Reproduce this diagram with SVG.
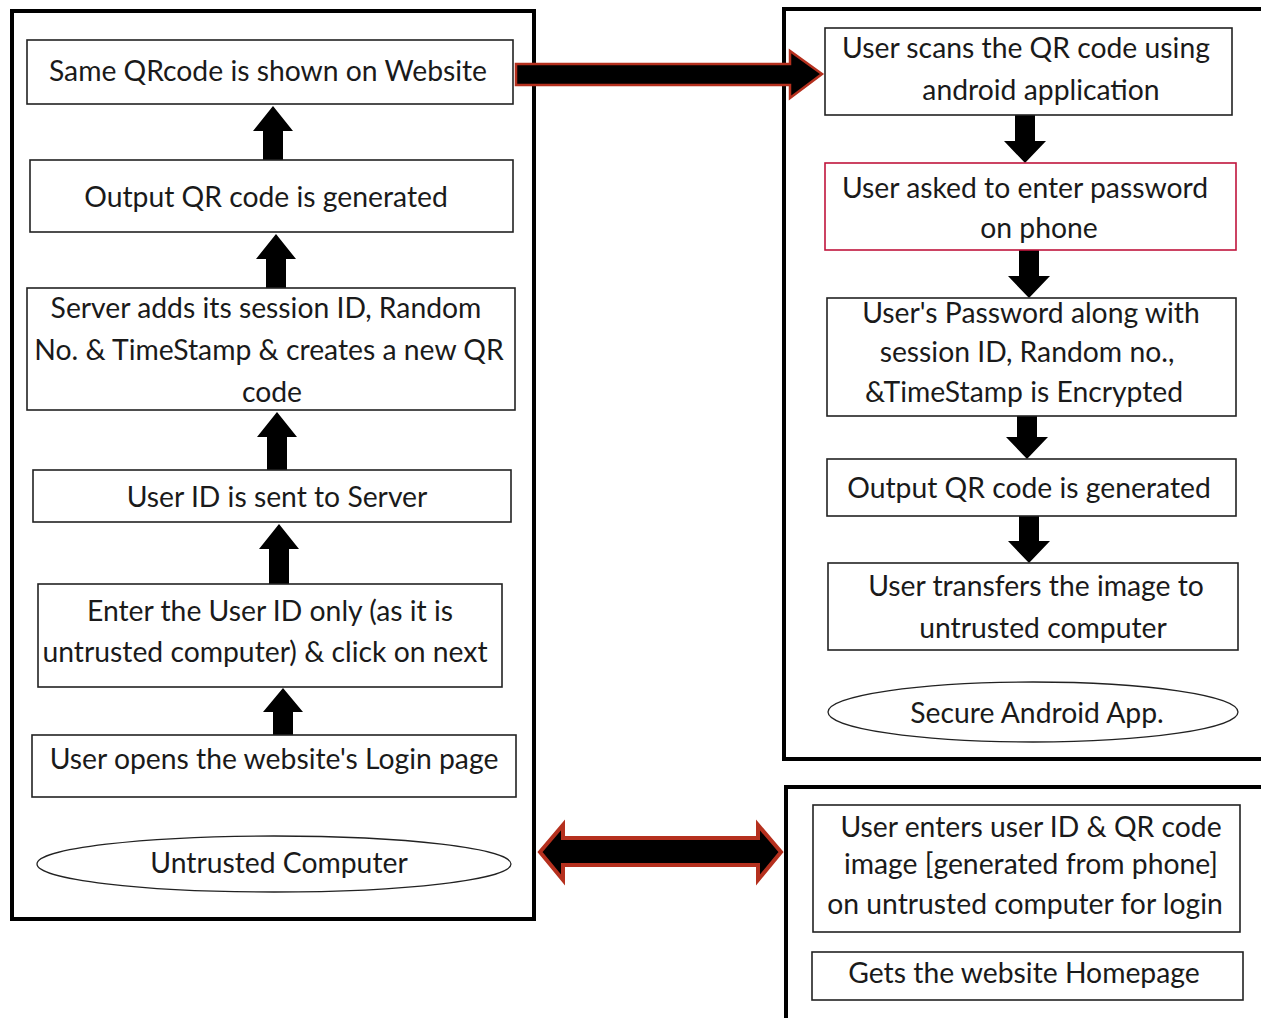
<svg xmlns="http://www.w3.org/2000/svg" width="1261" height="1018" viewBox="0 0 1261 1018">
<style>
.bg{fill:#ffffff}
.frame{fill:none;stroke:#000;stroke-width:4}
.box{fill:#fff;stroke:#222;stroke-width:1.6}
.redbox{fill:#fff;stroke:#c0143c;stroke-width:1.6}
.ell{fill:#fff;stroke:#222;stroke-width:1.3}
.t{font-family:Lato,"Open Sans","Liberation Sans",sans-serif;font-size:28.3px;fill:#1a1a1a;text-anchor:middle}
.arr{fill:#000}
.big{fill:#000;stroke:#b5301e;stroke-width:2.5;stroke-linejoin:miter}
.dbl{fill:#000;stroke:#b5301e;stroke-width:4;stroke-linejoin:miter}
</style>
<rect class="bg" x="0" y="0" width="1261" height="1018"/>
<g id="containers">
<rect class="frame" x="12" y="11" width="522" height="908"/>
<rect class="frame" x="784" y="9" width="490" height="750"/>
<rect class="frame" x="786" y="787" width="490" height="250"/>
</g>
<g id="connectors">
<polygon class="arr" points="273,106 293,131 283,131 283,160 263,160 263,131 253,131"/>
<polygon class="arr" points="276,234 296,259 286,259 286,288 266,288 266,259 256,259"/>
<polygon class="arr" points="277,412 297,437 287,437 287,470 267,470 267,437 257,437"/>
<polygon class="arr" points="279,524 299,549 289,549 289,584 269,584 269,549 259,549"/>
<polygon class="arr" points="283,688 303,712 293,712 293,735 273,735 273,712 263,712"/>
<polygon class="arr" points="1025,163 1046,141 1035,141 1035,115 1015,115 1015,141 1004,141"/>
<polygon class="arr" points="1029,298 1050,276 1039,276 1039,250 1019,250 1019,276 1008,276"/>
<polygon class="arr" points="1027,459 1048,437 1037,437 1037,416 1017,416 1017,437 1006,437"/>
<polygon class="arr" points="1029,563 1050,541 1039,541 1039,516 1019,516 1019,541 1008,541"/>
<polygon class="big" points="516,64 790,64 790,51 822,74 790,98 790,85 516,85"/>
<polygon class="dbl" points="540,852 563,825 563,838 758,838 758,825 781,852 758,880 758,865 563,865 563,880"/>
</g>
<g id="n-same-qr">
<rect class="box" x="27" y="40" width="486" height="64"/>
<text class="t" x="268" y="81">Same QRcode is shown on Website</text>
</g>
<g id="n-output-left">
<rect class="box" x="30" y="160" width="483" height="72"/>
<text class="t" x="266" y="207">Output QR code is generated</text>
</g>
<g id="n-server">
<rect class="box" x="27" y="288" width="488" height="122"/>
<text class="t" x="266" y="318">Server adds its session ID, Random</text>
<text class="t" x="269" y="360">No. &amp; TimeStamp &amp; creates a new QR</text>
<text class="t" x="272" y="402">code</text>
</g>
<g id="n-userid-sent">
<rect class="box" x="33" y="470" width="478" height="52"/>
<text class="t" x="277" y="507">User ID is sent to Server</text>
</g>
<g id="n-enter-id">
<rect class="box" x="38" y="584" width="464" height="103"/>
<text class="t" x="270" y="621">Enter the User ID only (as it is</text>
<text class="t" x="265" y="662">untrusted computer) &amp; click on next</text>
</g>
<g id="n-login-page">
<rect class="box" x="32" y="735" width="484" height="62"/>
<text class="t" x="274" y="769">User opens the website's Login page</text>
</g>
<g id="n-untrusted">
<ellipse class="ell" cx="274" cy="864" rx="237" ry="28"/>
<text class="t" x="279" y="873">Untrusted Computer</text>
</g>
<g id="n-scan">
<rect class="box" x="825" y="28" width="407" height="87"/>
<text class="t" x="1026" y="58">User scans the QR code using</text>
<text class="t" x="1041" y="100">android application</text>
</g>
<g id="n-password">
<rect class="redbox" x="825" y="163" width="411" height="87"/>
<text class="t" x="1025" y="198">User asked to enter password</text>
<text class="t" x="1039" y="238">on phone</text>
</g>
<g id="n-encrypt">
<rect class="box" x="827" y="298" width="409" height="118"/>
<text class="t" x="1031" y="323">User's Password along with</text>
<text class="t" x="1027" y="362">session ID, Random no.,</text>
<text class="t" x="1024" y="402">&amp;TimeStamp is Encrypted</text>
</g>
<g id="n-output-right">
<rect class="box" x="827" y="459" width="409" height="57"/>
<text class="t" x="1029" y="498">Output QR code is generated</text>
</g>
<g id="n-transfer">
<rect class="box" x="828" y="563" width="410" height="87"/>
<text class="t" x="1036" y="596">User transfers the image to</text>
<text class="t" x="1043" y="638">untrusted computer</text>
</g>
<g id="n-secure-app">
<ellipse class="ell" cx="1033" cy="712" rx="205" ry="30"/>
<text class="t" x="1037" y="723">Secure Android App.</text>
</g>
<g id="n-enter-qr">
<rect class="box" x="813" y="805" width="427" height="127"/>
<text class="t" x="1031" y="837">User enters user ID &amp; QR code</text>
<text class="t" x="1031" y="874">image [generated from phone]</text>
<text class="t" x="1025" y="914">on untrusted computer for  login</text>
</g>
<g id="n-homepage">
<rect class="box" x="812" y="952" width="431" height="48"/>
<text class="t" x="1024" y="983">Gets the website Homepage</text>
</g>
</svg>
